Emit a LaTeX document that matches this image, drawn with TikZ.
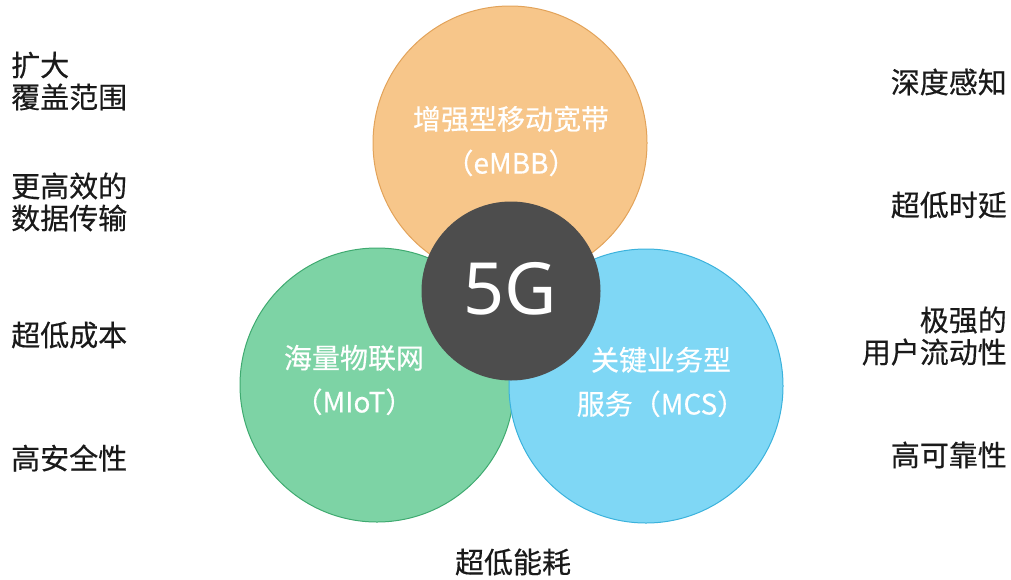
\documentclass[tikz,border=0pt]{standalone}
\usepackage{fontspec}
\setmainfont{Noto Sans CJK SC}
\newfontfamily\medfont[FakeBold=0.4]{Noto Sans CJK SC}
\newfontfamily\gfont{Noto Sans}
\definecolor{orfill}{HTML}{F7C68A}
\definecolor{ordraw}{HTML}{E2A35A}
\definecolor{grfill}{HTML}{7DD3A5}
\definecolor{grdraw}{HTML}{3FAA70}
\definecolor{blfill}{HTML}{7FD7F5}
\definecolor{bldraw}{HTML}{3BB2DC}
\definecolor{dkfill}{HTML}{4D4D4D}
\definecolor{txt}{HTML}{1A1A1A}
\begin{document}
\begin{tikzpicture}[x=1pt,y=-1pt,
  bigc/.style={circle,inner sep=0pt,minimum size=274pt,line width=1pt},
  intext/.style={text=white,font=\medfont\fontsize{28}{44}\selectfont,align=center,inner sep=0pt},
  outl/.style={text=txt,font=\medfont\fontsize{29}{32}\selectfont,align=left,inner sep=0pt,anchor=west},
  outr/.style={text=txt,font=\medfont\fontsize{29}{32}\selectfont,align=right,inner sep=0pt,anchor=east}]
\useasboundingbox (0,0) rectangle (1011,579);
\node[bigc,fill=orfill,draw=ordraw] (embb) at (510,143) {};
\node[bigc,fill=grfill,draw=grdraw] (miot) at (377,385) {};
\node[bigc,fill=blfill,draw=bldraw] (mcs) at (646,386) {};
\node[circle,inner sep=0pt,minimum size=179pt,fill=dkfill] (core) at (511,291) {};
\node[text=white,font=\gfont\fontsize{72}{72}\selectfont,inner sep=0pt] (fiveg) at (510,289) {5G};
\node[intext] (embbt) at (511,141) {增强型移动宽带\\（eMBB）};
\node[intext] (miott) at (354,380) {海量物联网\\（MIoT）};
\node[intext] (mcst) at (661,382) {关键业务型\\服务（MCS）};
\node[outl] (l1) at (11,81) {扩大\\覆盖范围};
\node[outl] (l2) at (11,202) {更高效的\\数据传输};
\node[outl] (l3) at (11,335) {超低成本};
\node[outl] (l4) at (11,458) {高安全性};
\node[outr] (r1) at (1007,82) {深度感知};
\node[outr] (r2) at (1007,205) {超低时延};
\node[outr] (r3) at (1007,336) {极强的\\用户流动性};
\node[outr] (r4) at (1007,455) {高可靠性};
\node[text=txt,font=\medfont\fontsize{29}{32}\selectfont,inner sep=0pt] (bottom) at (513,562) {超低能耗};
\end{tikzpicture}
\end{document}
